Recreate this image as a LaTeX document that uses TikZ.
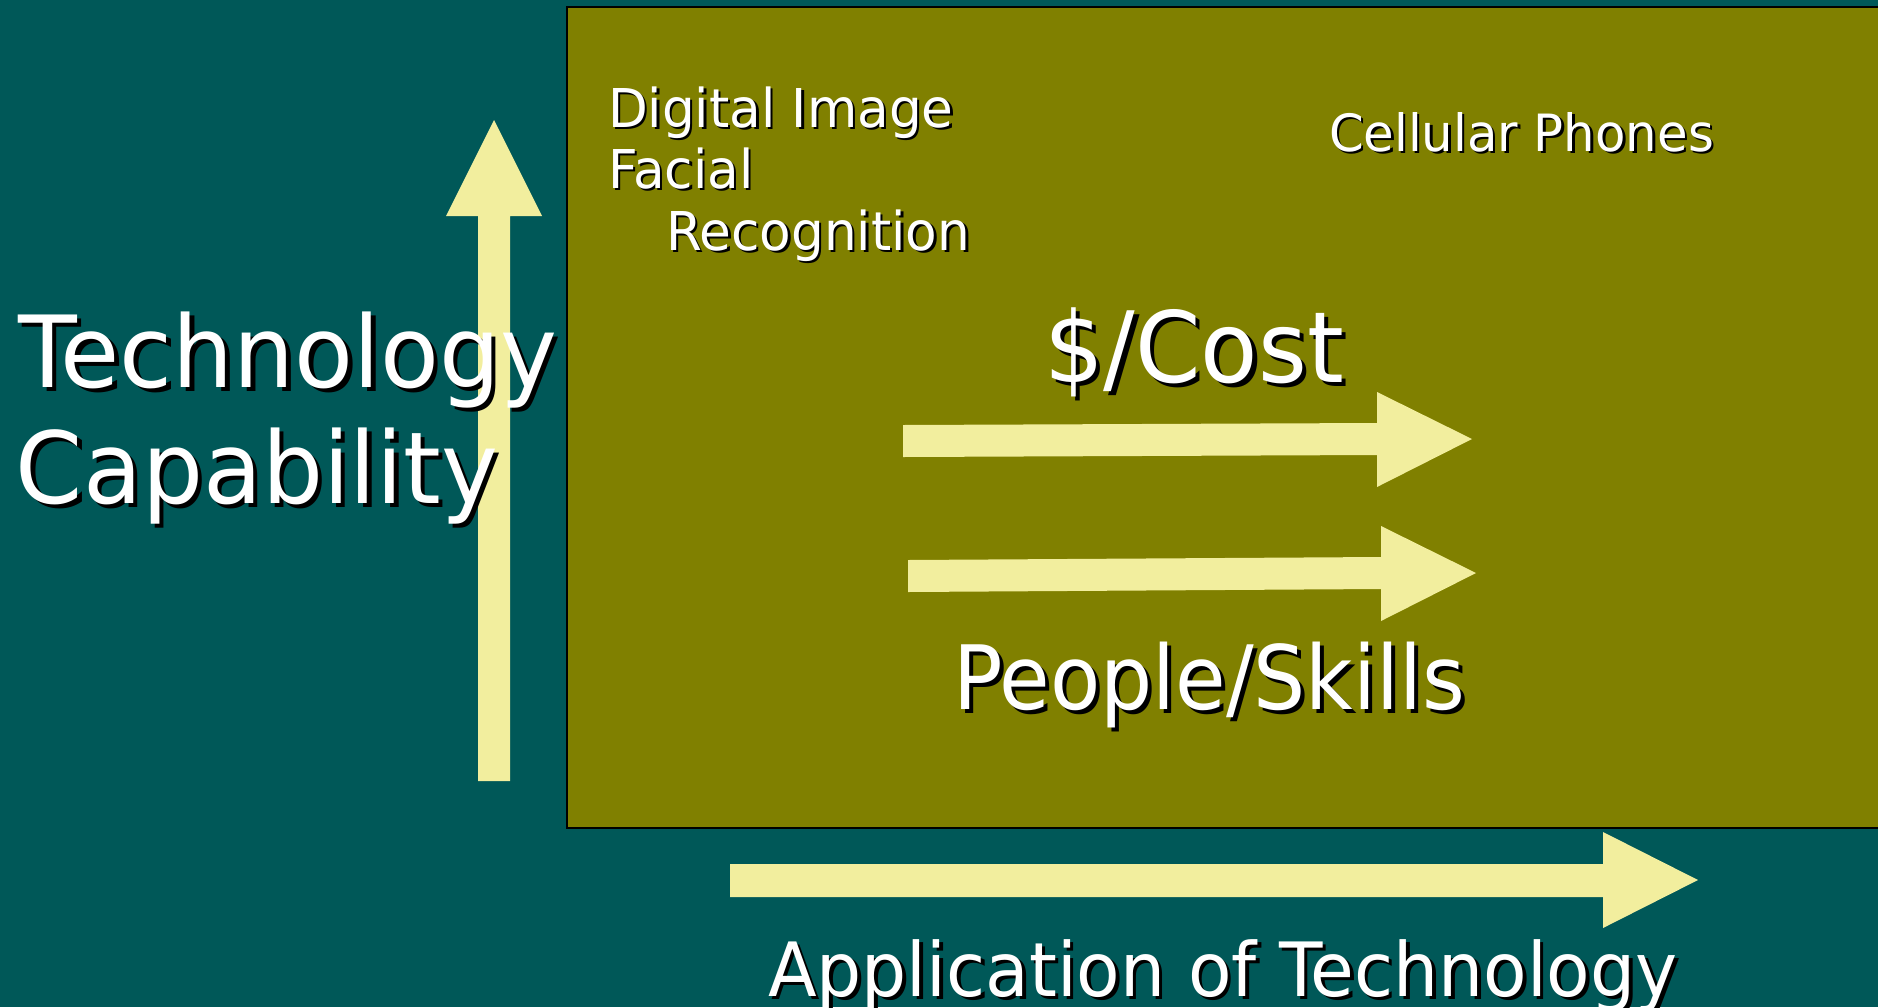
\documentclass[tikz,border=0pt]{standalone}
\usepackage{fontspec}
\setmainfont{DejaVu Sans}
\usetikzlibrary{calc}
\definecolor{bgteal}{RGB}{0,88,88}
\definecolor{boxolive}{RGB}{128,128,0}
\definecolor{arrowpale}{RGB}{242,238,158}
\tikzset{
  txt/.style={anchor=base west, inner sep=0pt, outer sep=0pt},
  blockarrow/.style={fill=arrowpale, draw=none},
}
% #1 name, #2 x, #3 y, #4 size, #5 shadow offset, #6 xscale, #7 text
\newcommand\shtext[7]{%
  \node[txt, text=black, font=\fontsize{#4}{#4}\selectfont] (#1s) at (#2+#5,#3+#5) {\scalebox{#6}[1.07]{#7}};
  \node[txt, text=white, font=\fontsize{#4}{#4}\selectfont] (#1) at (#2,#3) {\scalebox{#6}[1.07]{#7}};
}
\begin{document}
\begin{tikzpicture}[x=1pt,y=-1pt]
\useasboundingbox (0,0) rectangle (1878,1007);
\fill[bgteal] (0,0) rectangle (1878,1007);
% vertical arrow
\coordinate (vtip) at (494,120);
\fill[blockarrow] (478,781) -- (478,216) -- (446,216) -- (vtip) -- (542,216) -- (510,216) -- (510,781) -- cycle;
% box
\draw[fill=boxolive, draw=black, line width=2pt] (567,7) rectangle (1890,828);
% cost arrow
\coordinate (ctip) at (1472,439);
\fill[blockarrow] (903,425) -- (1377,423) -- (1377,392) -- (ctip) -- (1377,487) -- (1377,455) -- (903,457) -- cycle;
% people arrow
\coordinate (ptip) at (1476,573);
\fill[blockarrow] (908,560) -- (1381,557) -- (1381,526) -- (ptip) -- (1381,621) -- (1381,589) -- (908,592) -- cycle;
% application arrow
\coordinate (atip) at (1698,880);
\fill[blockarrow] (730,864) -- (1603,864) -- (1603,832) -- (atip) -- (1603,928) -- (1603,897) -- (730,897) -- cycle;
% texts
\shtext{tech}{18}{387}{93}{4.5}{1.035}{Technology}
\shtext{cap}{16}{503}{93}{4.5}{1.034}{Capability}
\shtext{dig}{608}{127}{50}{2.5}{1.033}{Digital Image}
\shtext{fac}{608}{188}{50}{2.5}{1.033}{Facial}
\shtext{rec}{666}{250}{50}{2.5}{1.033}{Recognition}
\shtext{cell}{1329}{151}{48}{2.5}{1.036}{Cellular Phones}
\shtext{cost}{1044}{382}{92}{4.5}{1.02}{\$/Cost}
\shtext{ppl}{953}{709}{83}{4}{0.99}{People/Skills}
\shtext{app}{768}{996}{70}{3.5}{1.016}{Application of Technology}
\end{tikzpicture}
\end{document}
